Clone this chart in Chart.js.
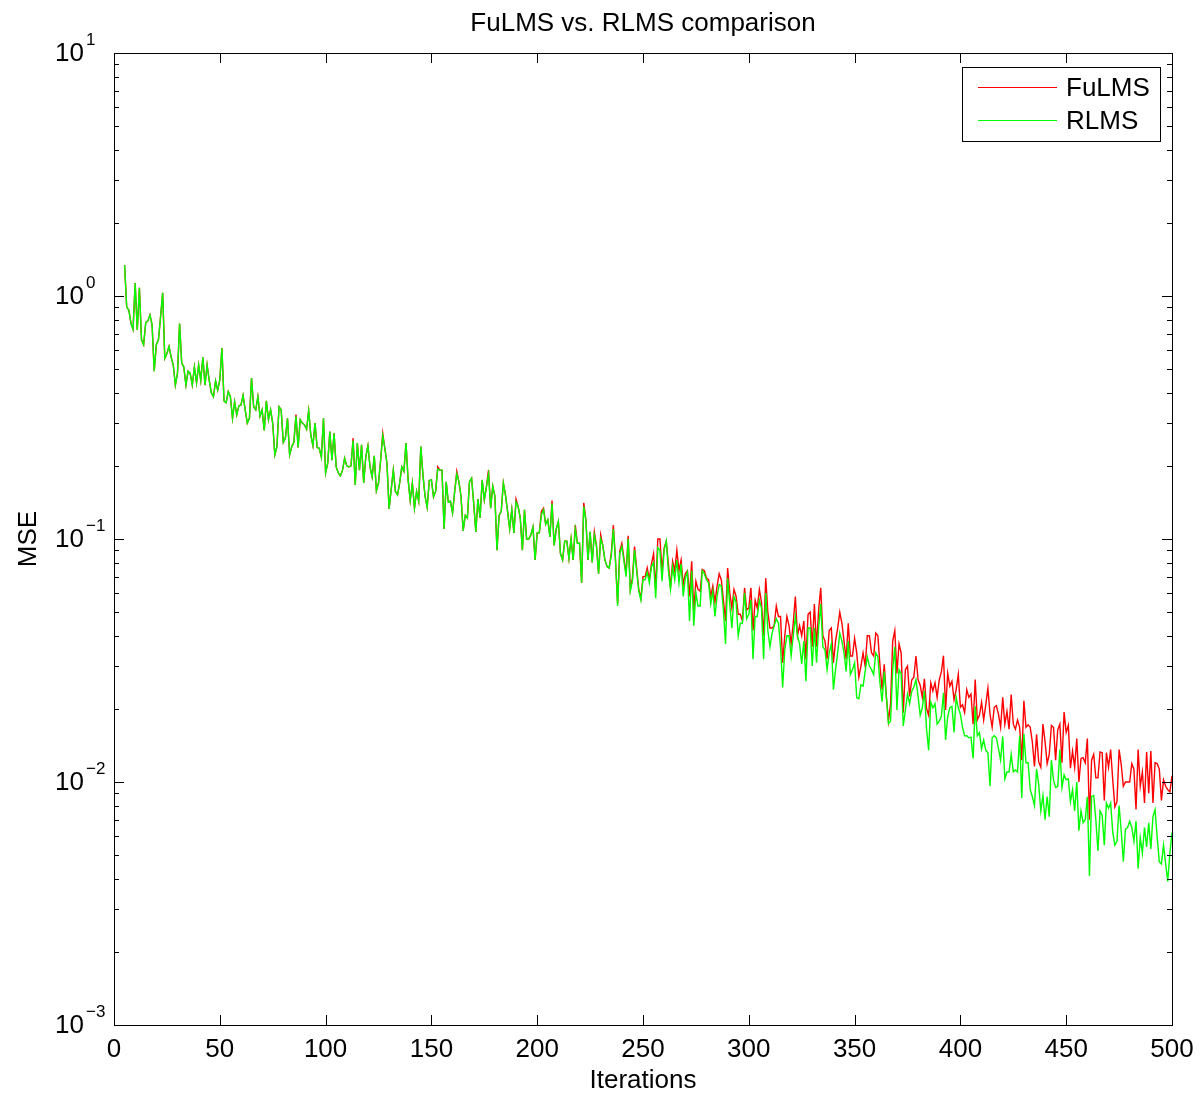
<!DOCTYPE html>
<html>
<head>
<meta charset="utf-8">
<script src="https://cdn.jsdelivr.net/npm/chart.js@4.4.1/dist/chart.umd.min.js"></script>
<style>
  html, body { margin: 0; padding: 0; background: #fff; }
  #wrap { position: relative; width: 1200px; height: 1095px; }
</style>
</head>
<body>
<div id="wrap"><canvas id="mse-chart"></canvas></div>
<script>
// first iteration shown on the plot, one value per iteration after that
const firstIteration = 5;

// MSE (red)
const fulmsMse = [
  1.34, 0.90, 0.876, 0.774, 0.73, 1.13, 0.725, 1.08, 0.66, 0.63,
  0.777, 0.79, 0.835, 0.76, 0.49, 0.63, 0.66, 0.82, 1.03, 0.554,
  0.58, 0.62, 0.56, 0.52, 0.43, 0.48, 0.77, 0.53, 0.51, 0.43,
  0.49, 0.48, 0.43, 0.51, 0.44, 0.52, 0.45, 0.56, 0.43, 0.52,
  0.45, 0.40, 0.385, 0.447, 0.41, 0.45, 0.61, 0.37, 0.364, 0.404,
  0.385, 0.314, 0.367, 0.324, 0.353, 0.356, 0.39, 0.34, 0.30, 0.314,
  0.46, 0.35, 0.34, 0.385, 0.32, 0.34, 0.28, 0.37, 0.31, 0.34,
  0.30, 0.222, 0.24, 0.35, 0.34, 0.25, 0.26, 0.314, 0.222, 0.24,
  0.25, 0.325, 0.238, 0.31, 0.30, 0.295, 0.283, 0.337, 0.268, 0.242,
  0.30, 0.238, 0.236, 0.217, 0.314, 0.187, 0.205, 0.277, 0.211, 0.272,
  0.198, 0.187, 0.182, 0.192, 0.215, 0.20, 0.198, 0.2, 0.26, 0.167,
  0.248, 0.192, 0.244, 0.17, 0.218, 0.242, 0.198, 0.18, 0.22, 0.158,
  0.17, 0.211, 0.272, 0.236, 0.205, 0.133, 0.16, 0.192, 0.157, 0.152,
  0.17, 0.198, 0.19, 0.248, 0.175, 0.144, 0.17, 0.134, 0.157, 0.143,
  0.24, 0.184, 0.15, 0.135, 0.174, 0.175, 0.149, 0.157, 0.198, 0.192,
  0.192, 0.11, 0.172, 0.142, 0.143, 0.128, 0.157, 0.19, 0.172, 0.15,
  0.108, 0.125, 0.122, 0.172, 0.178, 0.14, 0.107, 0.146, 0.122, 0.175,
  0.145, 0.164, 0.192, 0.134, 0.165, 0.15, 0.09, 0.125, 0.13, 0.17,
  0.152, 0.13, 0.11, 0.132, 0.106, 0.146, 0.136, 0.122, 0.09, 0.132,
  0.1, 0.1, 0.104, 0.112, 0.082, 0.106, 0.106, 0.13, 0.134, 0.115,
  0.12, 0.102, 0.144, 0.094, 0.11, 0.118, 0.087, 0.082, 0.098, 0.098,
  0.083, 0.1, 0.082, 0.114, 0.096, 0.096, 0.066, 0.141, 0.12, 0.082,
  0.107, 0.08, 0.107, 0.094, 0.072, 0.104, 0.094, 0.082, 0.077, 0.076,
  0.087, 0.114, 0.082, 0.054, 0.089, 0.096, 0.083, 0.072, 0.103, 0.062,
  0.069, 0.093, 0.076, 0.062, 0.057, 0.07, 0.07, 0.076, 0.068, 0.079,
  0.087, 0.062, 0.1, 0.1, 0.074, 0.092, 0.098, 0.079, 0.063, 0.081,
  0.074, 0.09, 0.074, 0.082, 0.065, 0.072, 0.074, 0.058, 0.081, 0.051,
  0.067, 0.062, 0.061, 0.075, 0.074, 0.069, 0.068, 0.058, 0.064, 0.055,
  0.064, 0.072, 0.068, 0.056, 0.046, 0.076, 0.06, 0.052, 0.062, 0.058,
  0.049, 0.049, 0.046, 0.063, 0.051, 0.052, 0.063, 0.042, 0.056, 0.052,
  0.062, 0.055, 0.040, 0.069, 0.05, 0.043, 0.043, 0.044, 0.053, 0.048,
  0.048, 0.031, 0.040, 0.048, 0.044, 0.037, 0.045, 0.058, 0.040, 0.044,
  0.040, 0.046, 0.032, 0.049, 0.050, 0.036, 0.054, 0.036, 0.051, 0.063,
  0.040, 0.038, 0.032, 0.042, 0.043, 0.031, 0.038, 0.043, 0.050, 0.045,
  0.038, 0.032, 0.045, 0.033, 0.033, 0.039, 0.034, 0.027, 0.030, 0.034,
  0.030, 0.040, 0.040, 0.034, 0.033, 0.041, 0.040, 0.030, 0.024, 0.0305,
  0.0225, 0.0178, 0.021, 0.038, 0.042, 0.028, 0.037, 0.034, 0.0193, 0.029,
  0.030, 0.0225, 0.0263, 0.027, 0.033, 0.0263, 0.025, 0.0223, 0.0266, 0.0201,
  0.0188, 0.0256, 0.0237, 0.0256, 0.0223, 0.0263, 0.0284, 0.0331, 0.0198, 0.028,
  0.0248, 0.026, 0.0218, 0.024, 0.0277, 0.0203, 0.0208, 0.0193, 0.024, 0.0223,
  0.023, 0.0173, 0.0264, 0.018, 0.0188, 0.0213, 0.018, 0.0208, 0.0243, 0.019,
  0.0168, 0.0203, 0.0206, 0.019, 0.0168, 0.0223, 0.0173, 0.0195, 0.0165, 0.0229,
  0.0173, 0.0165, 0.018, 0.0168, 0.0123, 0.0216, 0.0168, 0.0172, 0.0168, 0.0146,
  0.0116, 0.0157, 0.0121, 0.0115, 0.0173, 0.0147, 0.0119, 0.013, 0.0171, 0.0168,
  0.0123, 0.0164, 0.0173, 0.012, 0.0194, 0.016, 0.0171, 0.0114, 0.0134, 0.0115,
  0.0151, 0.0100, 0.0125, 0.0126, 0.012, 0.0151, 0.0070, 0.0123, 0.013, 0.0104,
  0.0104, 0.0133, 0.0132, 0.0084, 0.0132, 0.0115, 0.0136, 0.0102, 0.0079, 0.0083,
  0.0136, 0.0118, 0.0096, 0.0100, 0.0100, 0.0100, 0.0119, 0.0113, 0.0077, 0.0136,
  0.0096, 0.011, 0.0082, 0.0133, 0.0090, 0.0134, 0.0082, 0.012, 0.0119, 0.0113,
  0.0084, 0.0102, 0.0096, 0.0093, 0.0091, 0.0106
];

// MSE (green)
const rlmsMse = [
  1.34, 0.90, 0.876, 0.774, 0.73, 1.13, 0.725, 1.08, 0.66, 0.63,
  0.777, 0.79, 0.835, 0.76, 0.49, 0.63, 0.66, 0.82, 1.03, 0.554,
  0.58, 0.62, 0.56, 0.52, 0.43, 0.48, 0.77, 0.53, 0.51, 0.43,
  0.49, 0.48, 0.43, 0.51, 0.44, 0.52, 0.45, 0.56, 0.43, 0.52,
  0.45, 0.40, 0.385, 0.447, 0.41, 0.45, 0.61, 0.37, 0.364, 0.404,
  0.385, 0.314, 0.367, 0.324, 0.353, 0.356, 0.39, 0.34, 0.30, 0.314,
  0.46, 0.35, 0.34, 0.385, 0.32, 0.34, 0.28, 0.37, 0.31, 0.34,
  0.30, 0.222, 0.24, 0.35, 0.34, 0.25, 0.26, 0.314, 0.222, 0.24,
  0.25, 0.32, 0.238, 0.31, 0.30, 0.295, 0.283, 0.337, 0.268, 0.242,
  0.30, 0.238, 0.236, 0.217, 0.314, 0.187, 0.205, 0.277, 0.211, 0.272,
  0.198, 0.187, 0.182, 0.192, 0.215, 0.20, 0.198, 0.2, 0.254, 0.167,
  0.248, 0.192, 0.244, 0.17, 0.218, 0.242, 0.198, 0.18, 0.22, 0.158,
  0.17, 0.211, 0.266, 0.236, 0.205, 0.133, 0.16, 0.192, 0.157, 0.152,
  0.17, 0.198, 0.19, 0.248, 0.175, 0.144, 0.17, 0.134, 0.157, 0.143,
  0.24, 0.184, 0.15, 0.135, 0.174, 0.175, 0.149, 0.157, 0.194, 0.192,
  0.192, 0.11, 0.172, 0.142, 0.143, 0.128, 0.157, 0.185, 0.172, 0.15,
  0.108, 0.125, 0.122, 0.172, 0.178, 0.14, 0.107, 0.146, 0.122, 0.175,
  0.145, 0.164, 0.185, 0.134, 0.165, 0.15, 0.09, 0.125, 0.13, 0.17,
  0.152, 0.13, 0.11, 0.132, 0.106, 0.142, 0.136, 0.122, 0.09, 0.132,
  0.1, 0.1, 0.104, 0.112, 0.082, 0.106, 0.106, 0.126, 0.132, 0.115,
  0.12, 0.102, 0.14, 0.094, 0.11, 0.118, 0.087, 0.082, 0.098, 0.098,
  0.083, 0.1, 0.082, 0.11, 0.096, 0.096, 0.066, 0.136, 0.12, 0.082,
  0.107, 0.08, 0.104, 0.094, 0.072, 0.1, 0.094, 0.082, 0.077, 0.076,
  0.085, 0.11, 0.082, 0.053, 0.087, 0.093, 0.081, 0.07, 0.1, 0.061,
  0.067, 0.09, 0.074, 0.061, 0.056, 0.068, 0.068, 0.073, 0.066, 0.077,
  0.08, 0.057, 0.092, 0.09, 0.067, 0.09, 0.098, 0.074, 0.062, 0.077,
  0.068, 0.082, 0.066, 0.079, 0.058, 0.069, 0.073, 0.046, 0.074, 0.044,
  0.06, 0.053, 0.053, 0.074, 0.072, 0.068, 0.066, 0.054, 0.061, 0.048,
  0.058, 0.065, 0.064, 0.051, 0.037, 0.069, 0.054, 0.043, 0.058, 0.055,
  0.040, 0.045, 0.045, 0.06, 0.047, 0.049, 0.056, 0.032, 0.048, 0.048,
  0.056, 0.052, 0.032, 0.06, 0.042, 0.036, 0.041, 0.044, 0.047, 0.045,
  0.036, 0.0245, 0.035, 0.04, 0.04, 0.033, 0.04, 0.048, 0.04, 0.037,
  0.0306, 0.038, 0.026, 0.043, 0.043, 0.03, 0.043, 0.031, 0.043, 0.054,
  0.036, 0.035, 0.029, 0.034, 0.037, 0.024, 0.029, 0.034, 0.041, 0.038,
  0.034, 0.0285, 0.038, 0.0277, 0.029, 0.031, 0.0222, 0.022, 0.0251, 0.0248,
  0.0285, 0.0327, 0.030, 0.029, 0.0277, 0.034, 0.0327, 0.0255, 0.0214, 0.0285,
  0.0225, 0.0174, 0.0178, 0.029, 0.036, 0.0198, 0.029, 0.028, 0.017, 0.0198,
  0.023, 0.021, 0.0236, 0.0246, 0.0263, 0.0225, 0.0188, 0.0202, 0.0237, 0.0165,
  0.0135, 0.0213, 0.0202, 0.021, 0.0173, 0.0178, 0.0186, 0.0233, 0.0149, 0.0186,
  0.0202, 0.0205, 0.016, 0.0223, 0.0202, 0.019, 0.0168, 0.0155, 0.0155, 0.0152,
  0.0153, 0.0125, 0.0205, 0.0155, 0.016, 0.0137, 0.0149, 0.0135, 0.0132, 0.0096,
  0.0152, 0.0155, 0.0152, 0.0137, 0.0123, 0.0154, 0.0103, 0.011, 0.011, 0.013,
  0.011, 0.0112, 0.011, 0.0155, 0.0086, 0.0158, 0.012, 0.012, 0.0093, 0.0087,
  0.008, 0.0113, 0.0098, 0.0076, 0.0088, 0.0070, 0.0087, 0.0072, 0.0123, 0.0102,
  0.0095, 0.0096, 0.0136, 0.0095, 0.0107, 0.0102, 0.0103, 0.0083, 0.0093, 0.0076,
  0.0100, 0.0063, 0.0076, 0.0068, 0.0070, 0.0087, 0.0041, 0.0087, 0.0088, 0.0070,
  0.0052, 0.0076, 0.0073, 0.0055, 0.0082, 0.0078, 0.0082, 0.0062, 0.0055, 0.0057,
  0.0080, 0.0063, 0.0047, 0.0064, 0.0065, 0.0069, 0.0065, 0.0057, 0.0069, 0.0044,
  0.0059, 0.0051, 0.0065, 0.0054, 0.0068, 0.0053, 0.0072, 0.0077, 0.0059, 0.0047,
  0.0046, 0.0055, 0.0046, 0.0039, 0.0051, 0.0062
];

const seriesNames = ['FuLMS', 'RLMS'];
const xTicks = [0, 50, 100, 150, 200, 250, 300, 350, 400, 450, 500];
const yDecades = [-3, -2, -1, 0, 1];
const exponentLabels = ['\u22123', '\u22122', '\u22121', '0', '1'];

const FONT = '"Liberation Sans", Arial, Helvetica, sans-serif';

function toPoints(values) {
  return values.map((v, i) => ({ x: firstIteration + i, y: v }));
}

// box, inward ticks, tick labels, titles and legend in MATLAB style
const matlabAxes = {
  id: 'matlabAxes',
  afterDatasetsDraw(chart) {
    const { ctx, chartArea: a, scales: { x, y } } = chart;
    ctx.save();
    ctx.strokeStyle = '#000';
    ctx.lineWidth = 1;

    ctx.beginPath();
    xTicks.forEach(v => {
      const px = Math.round(x.getPixelForValue(v)) + 0.5;
      ctx.moveTo(px, a.bottom); ctx.lineTo(px, a.bottom - 10);
      ctx.moveTo(px, a.top); ctx.lineTo(px, a.top + 10);
    });
    yDecades.forEach((d, i) => {
      const base = Math.pow(10, d);
      const py = Math.round(y.getPixelForValue(base)) + 0.5;
      ctx.moveTo(a.left, py); ctx.lineTo(a.left + 10, py);
      ctx.moveTo(a.right, py); ctx.lineTo(a.right - 10, py);
      if (i < yDecades.length - 1) {
        for (let m = 2; m <= 9; m++) {
          const my = Math.round(y.getPixelForValue(m * base)) + 0.5;
          ctx.moveTo(a.left, my); ctx.lineTo(a.left + 5, my);
          ctx.moveTo(a.right, my); ctx.lineTo(a.right - 5, my);
        }
      }
    });
    ctx.stroke();
    ctx.strokeRect(a.left + 0.5, a.top + 0.5, a.right - a.left, a.bottom - a.top);

    ctx.fillStyle = '#000';
    // x tick labels
    ctx.font = '26px ' + FONT;
    ctx.textAlign = 'center';
    ctx.textBaseline = 'middle';
    xTicks.forEach(v => ctx.fillText(String(v), x.getPixelForValue(v), a.bottom + 25));

    // y tick labels 10^n
    yDecades.forEach((d, i) => {
      const py = y.getPixelForValue(Math.pow(10, d));
      ctx.font = '26px ' + FONT;
      ctx.textAlign = 'right';
      ctx.textBaseline = 'middle';
      ctx.fillText('10', 84, py + 1);
      ctx.font = '17px ' + FONT;
      ctx.textAlign = 'left';
      ctx.fillText(exponentLabels[i], 86, py - 13);
    });

    // titles
    ctx.font = '26px ' + FONT;
    ctx.textAlign = 'center';
    ctx.fillText('FuLMS vs. RLMS comparison', (a.left + a.right) / 2, 24);
    ctx.fillText('Iterations', (a.left + a.right) / 2, a.bottom + 56);
    ctx.save();
    ctx.translate(29, (a.top + a.bottom) / 2);
    ctx.rotate(-Math.PI / 2);
    ctx.fillText('MSE', 0, 0);
    ctx.restore();

    // legend box
    const box = { left: 962, top: 67, right: 1160, bottom: 141 };
    ctx.fillStyle = '#fff';
    ctx.fillRect(box.left, box.top, box.right - box.left, box.bottom - box.top);
    ctx.strokeRect(box.left + 0.5, box.top + 0.5, box.right - box.left, box.bottom - box.top);
    const rows = [87.5, 120.5];
    chart.data.datasets.forEach((ds, i) => {
      ctx.strokeStyle = ds.borderColor;
      ctx.lineWidth = 1.2;
      ctx.beginPath();
      ctx.moveTo(978, rows[i]); ctx.lineTo(1057, rows[i]);
      ctx.stroke();
      ctx.fillStyle = '#000';
      ctx.font = '26px ' + FONT;
      ctx.textAlign = 'left';
      ctx.textBaseline = 'middle';
      ctx.fillText(ds.label, 1066, rows[i] + 1);
    });
    ctx.restore();
  }
};

const ctx = document.getElementById('mse-chart').getContext('2d');
const mseChart = new Chart(ctx, {
  type: 'line',
  data: {
    datasets: [
      {
        label: seriesNames[0],
        data: toPoints(fulmsMse),
        borderColor: '#ff0000',
        borderWidth: 1.4,
        pointRadius: 0,
        tension: 0,
        order: 2
      },
      {
        label: seriesNames[1],
        data: toPoints(rlmsMse),
        borderColor: '#00ff00',
        borderWidth: 1.4,
        pointRadius: 0,
        tension: 0,
        order: 1
      }
    ]
  },
  options: {
    responsive: true,
    maintainAspectRatio: false,
    animation: false,
    layout: { padding: { left: 114, right: 28, top: 53, bottom: 70 } },
    plugins: {
      legend: { display: false },
      title: { display: false },
      tooltip: { enabled: false }
    },
    scales: {
      x: { type: 'linear', min: 0, max: 500, display: false },
      y: { type: 'logarithmic', min: 0.001, max: 10, display: false }
    }
  },
  plugins: [matlabAxes]
});
</script>
</body>
</html>
